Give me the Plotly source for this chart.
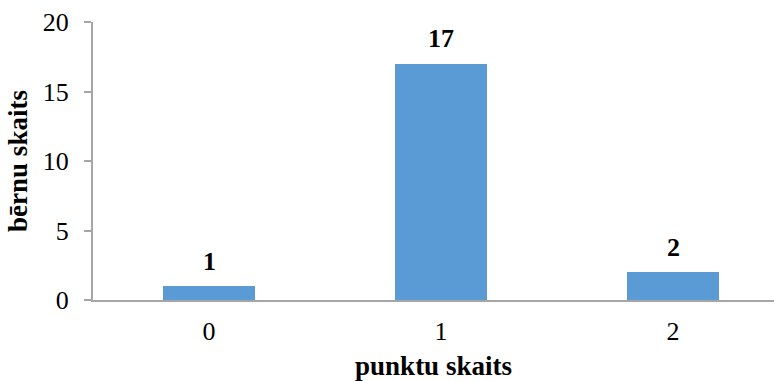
import plotly.graph_objects as go

# Score distribution: how many children got each number of points
categories = ["0", "1", "2"]
counts = [1, 17, 2]
y_ticks = [0, 5, 10, 15, 20]

bar_color = "#5B9BD5"
axis_color = "#A6A6A6"
font_family = "Times New Roman, Liberation Serif, serif"
fsize = 26
title_size = 27

fig = go.Figure()
fig.add_trace(go.Bar(
    x=list(range(len(categories))),
    y=counts,
    width=0.4,
    marker=dict(color=bar_color, line=dict(width=0)),
    hoverinfo="skip",
))

# value labels above each bar
for i, v in enumerate(counts):
    fig.add_annotation(
        x=i, y=v, text=f"<b>{v}</b>", showarrow=False,
        yshift=25, font=dict(family=font_family, size=fsize, color="black"),
    )

fig.update_layout(
    width=774, height=381,
    margin=dict(l=93, r=0, t=22, b=81),
    paper_bgcolor="white", plot_bgcolor="white",
    showlegend=False,
    font=dict(family=font_family, size=fsize, color="black"),
    bargap=0,
)

fig.update_xaxes(
    range=[-0.5, 2.435],
    tickmode="array", tickvals=list(range(len(categories))), ticktext=categories,
    tickfont=dict(family=font_family, size=fsize, color="black"),
    showgrid=False, zeroline=False,
    showline=True, linecolor=axis_color, linewidth=2,
    ticks="", ticklabelstandoff=7,
    title=dict(text="<b>punktu skaits</b>", standoff=12,
               font=dict(family=font_family, size=title_size, color="black")),
)

fig.update_yaxes(
    range=[0, 20],
    tickmode="array", tickvals=y_ticks,
    tickfont=dict(family=font_family, size=fsize, color="black"),
    showgrid=False, zeroline=False,
    showline=True, linecolor=axis_color, linewidth=2,
    ticks="outside", ticklen=7, tickcolor=axis_color, tickwidth=2,
    ticklabelstandoff=10,
    title=dict(text="<b>bērnu skaits</b>", standoff=7,
               font=dict(family=font_family, size=title_size, color="black")),
)

fig.write_html("out.html")
